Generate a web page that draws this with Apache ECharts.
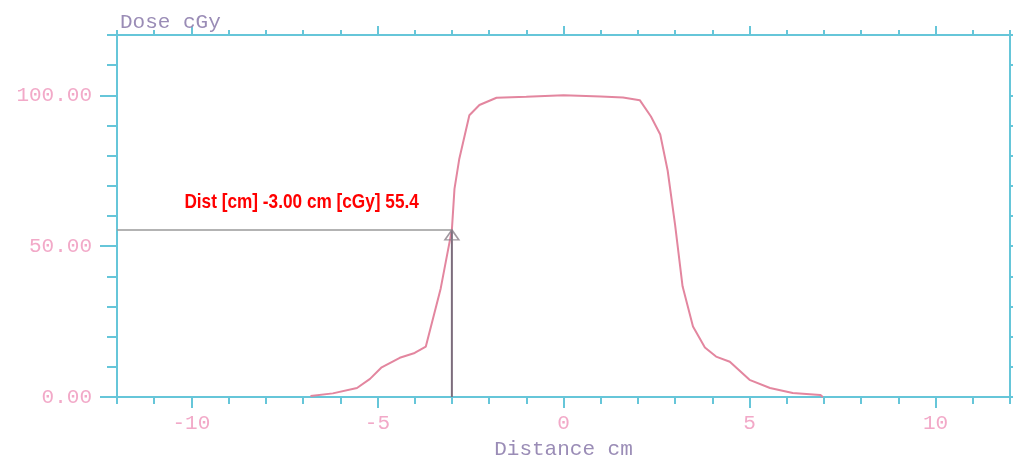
<!DOCTYPE html>
<html>
<head>
<meta charset="utf-8">
<script src="https://cdn.jsdelivr.net/npm/echarts@6/dist/echarts.min.js"></script>
<style>html,body{margin:0;padding:0;background:#fff}#c{width:1014px;height:455px}</style>
</head>
<body>
<div id="c"></div>
<script>
// Dose profile data (Distance cm, Dose cGy)
const distance = [-6.8, -6.2, -5.55, -5.2, -4.9, -4.4, -4.0, -3.7, -3.3, -3.0, -2.93, -2.8, -2.53, -2.26, -1.8, -1.0, 0, 1.0, 1.6, 2.05, 2.35, 2.6, 2.8, 3.0, 3.2, 3.48, 3.8, 4.1, 4.47, 5.0, 5.55, 6.16, 6.9, 6.97];
const dose =     [0.3, 1.2, 3, 6, 9.7, 13, 14.6, 16.7, 36, 55.4, 69, 79, 93.4, 96.8, 99.2, 99.5, 100, 99.6, 99.3, 98.4, 93, 87, 75, 57, 36.7, 23.4, 16.4, 13.4, 11.7, 5.7, 3, 1.3, 0.7, 0];
const cursorX = -3.0;
const cursorY = 55.4;
const xMin = -12, xMax = 12;
const yMin = 0, yMax = 120;
const xMajorTicks = [-10, -5, 0, 5, 10];
const yMajorTicks = [0, 50, 100];

const axisColor = '#66c6d9';
const labelColor = '#f2a9c8';
const nameColor = '#9a8cb6';
const monoFont = '"Liberation Mono", "DejaVu Sans Mono", monospace';

const curve = distance.map((d, i) => [d, dose[i]]);

function xAx(position, tickLen, major, withLabels) {
  const ax = {
    type: 'value', position: position, min: xMin, max: xMax, interval: 1,
    axisLine: { show: true, onZero: false, lineStyle: { color: axisColor, width: 2 } },
    splitLine: { show: false },
    axisTick: { show: true, length: tickLen, lineStyle: { color: axisColor, width: 2 } },
    axisLabel: { show: false }
  };
  if (major) ax.axisTick.customValues = xMajorTicks;
  if (withLabels) {
    ax.axisLabel = { show: true, customValues: xMajorTicks, color: labelColor, fontFamily: monoFont, fontSize: 21, margin: 16 };
    ax.name = 'Distance cm';
    ax.nameLocation = 'middle';
    ax.nameGap = 38;
    ax.nameTextStyle = { color: nameColor, fontFamily: monoFont, fontSize: 21 };
  }
  return ax;
}
function yAx(position, tickLen, major, withLabels) {
  const ax = {
    type: 'value', position: position, min: yMin, max: yMax, interval: 10,
    axisLine: { show: true, onZero: false, lineStyle: { color: axisColor, width: 2 } },
    splitLine: { show: false },
    axisTick: { show: true, length: tickLen, lineStyle: { color: axisColor, width: 2 } },
    axisLabel: { show: false }
  };
  if (major) ax.axisTick.customValues = yMajorTicks;
  if (withLabels) {
    ax.axisLabel = { show: true, customValues: yMajorTicks, color: labelColor, fontFamily: monoFont, fontSize: 21, margin: 25,
      formatter: v => v.toFixed(2) };
  }
  return ax;
}

const chart = echarts.init(document.getElementById('c'), null, { renderer: 'canvas' });
chart.setOption({
  animation: false,
  backgroundColor: '#ffffff',
  title: { text: 'Dose cGy', left: 115, top: 7, textStyle: { color: nameColor, fontFamily: monoFont, fontSize: 21, fontWeight: 'normal' } },
  grid: { left: 117, right: 4, top: 35, bottom: 58, containLabel: false, outerBoundsMode: 'none' },
  xAxis: [xAx('bottom', 7, false, false), xAx('bottom', 11, true, true), xAx('top', 5, false, false), xAx('top', 9, true, false)],
  yAxis: [yAx('left', 10, false, false), yAx('left', 17, true, true), yAx('right', 3, false, false)],
  series: [
    { type: 'line', data: curve, showSymbol: false, symbol: 'none', lineStyle: { color: '#e3869f', width: 2 }, z: 3 },
    { type: 'line', data: [[xMin, cursorY], [cursorX, cursorY]], symbol: 'none', lineStyle: { color: '#9a9a9a', width: 1.5 }, z: 2 },
    { type: 'line', data: [[cursorX, yMin], [cursorX, cursorY]], symbol: 'none', lineStyle: { color: '#7c6c7c', width: 2 }, z: 4 },
    { type: 'scatter', data: [[cursorX, cursorY]], symbol: 'triangle', symbolSize: [14, 10], symbolOffset: [0, 5],
      itemStyle: { color: 'rgba(255,255,255,0)', borderColor: '#8a7f88', borderWidth: 1.5 }, z: 5 }
  ]
});

// Cursor readout text, anchored to the cursor point through the chart's scales
const anchor = chart.convertToPixel({ xAxisIndex: 0, yAxisIndex: 0 }, [cursorX, cursorY]);
chart.setOption({
  graphic: [{
    type: 'text', x: anchor[0] - 33, y: anchor[1] - 28, scaleX: 0.82, z: 10,
    style: {
      text: 'Dist [cm] ' + cursorX.toFixed(2) + ' cm [cGy] ' + cursorY.toFixed(1),
      fill: '#ff0000', fontWeight: 'bold', fontSize: 21,
      fontFamily: '"Liberation Sans", Arial, sans-serif',
      align: 'right', verticalAlign: 'middle'
    }
  }]
});
</script>
</body>
</html>
